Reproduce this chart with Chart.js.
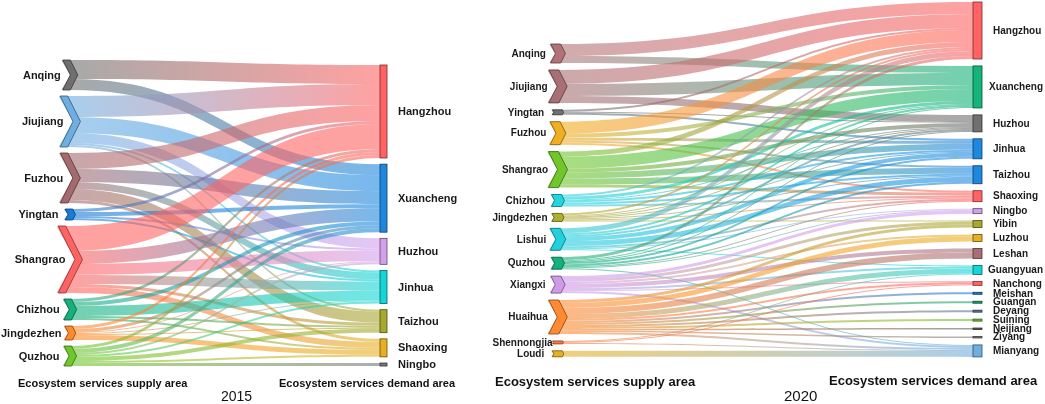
<!DOCTYPE html>
<html>
<head>
<meta charset="utf-8">
<script src="https://cdn.jsdelivr.net/npm/chart.js@4.4.1/dist/chart.umd.min.js"></script>
<style>
html,body{margin:0;padding:0;background:#fff;overflow:hidden}
#wrap{position:relative;width:1045px;height:404px;background:#fff}
canvas{position:absolute;top:0}
#c1{left:0}
#c2{left:490px}
</style>
</head>
<body>
<div id="wrap">
<canvas id="c1" width="490" height="404"></canvas>
<canvas id="c2" width="555" height="404"></canvas>
</div>
<script>
// ---------------- 2015 ----------------
const sources2015 = ["Anqing","Jiujiang","Fuzhou","Yingtan","Shangrao","Chizhou","Jingdezhen","Quzhou"];
const sourceColors2015 = ["#6f6f6f","#6eaee2","#a36b70","#1a7bd8","#ff6363","#16b07c","#ff8a2c","#6fc72c"];
const targets2015 = ["Hangzhou","Xuancheng","Huzhou","Jinhua","Taizhou","Shaoxing","Ningbo"];
const targetColors2015 = ["#ff6363","#1e88e0","#d3a0ec","#14d6d6","#a8a82e","#e8b020","#777777"];
const links2015 = [
  ["Anqing","Hangzhou",19],["Anqing","Xuancheng",11],
  ["Jiujiang","Hangzhou",21],["Jiujiang","Xuancheng",16],["Jiujiang","Huzhou",10],["Jiujiang","Jinhua",2],["Jiujiang","Taizhou",2],
  ["Fuzhou","Hangzhou",16],["Fuzhou","Xuancheng",13],["Fuzhou","Jinhua",7],["Fuzhou","Taizhou",11],["Fuzhou","Shaoxing",3],
  ["Yingtan","Hangzhou",3],["Yingtan","Xuancheng",4],["Yingtan","Huzhou",2],["Yingtan","Jinhua",2],
  ["Shangrao","Hangzhou",25],["Shangrao","Xuancheng",13],["Shangrao","Huzhou",11],["Shangrao","Jinhua",9],["Shangrao","Taizhou",3],["Shangrao","Shaoxing",6],
  ["Chizhou","Hangzhou",3],["Chizhou","Xuancheng",4],["Chizhou","Jinhua",10],["Chizhou","Taizhou",2],["Chizhou","Shaoxing",2],
  ["Jingdezhen","Hangzhou",3],["Jingdezhen","Xuancheng",3],["Jingdezhen","Huzhou",1],["Jingdezhen","Jinhua",1],["Jingdezhen","Taizhou",1],["Jingdezhen","Shaoxing",5],
  ["Quzhou","Hangzhou",3],["Quzhou","Xuancheng",4],["Quzhou","Huzhou",2],["Quzhou","Jinhua",2],["Quzhou","Taizhou",4],["Quzhou","Shaoxing",2],["Quzhou","Ningbo",3]
];

// ---------------- 2020 ----------------
const sources2020 = ["Anqing","Jiujiang","Yingtan","Fuzhou","Shangrao","Chizhou","Jingdezhen","Lishui","Quzhou","Xiangxi","Huaihua","Shennongjia","Loudi"];
const sourceColors2020 = ["#b07478","#a86f74","#707070","#f0ae22","#70c62a","#22d6e0","#b0ae30","#22d0de","#12b27a","#cf9ae8","#ff8a32","#ff7a3a","#e6b024"];
const targets2020 = ["Hangzhou","Xuancheng","Huzhou","Jinhua","Taizhou","Shaoxing","Ningbo","Yibin","Luzhou","Leshan","Guangyuan","Nanchong","Meishan","Guangan","Deyang","Suining","Neijiang","Ziyang","Mianyang"];
const targetColors2020 = ["#ff6363","#14b47a","#707070","#1e88e0","#1e88e0","#ff6363","#d3a0ec","#a8a82e","#e8b020","#a86f74","#14d6d6","#ff6363","#1e78d8","#12a872","#5a7890","#6cc62a","#606060","#808080","#70aee0"];
const links2020 = [
  ["Anqing","Hangzhou",12],["Anqing","Xuancheng",7],
  ["Jiujiang","Hangzhou",14],["Jiujiang","Xuancheng",12],["Jiujiang","Huzhou",7],
  ["Yingtan","Hangzhou",2],["Yingtan","Huzhou",1],["Yingtan","Jinhua",2],
  ["Fuzhou","Hangzhou",12],["Fuzhou","Xuancheng",4],["Fuzhou","Jinhua",3],["Fuzhou","Taizhou",2],["Fuzhou","Shaoxing",2],
  ["Shangrao","Hangzhou",5],["Shangrao","Xuancheng",12],["Shangrao","Huzhou",4],["Shangrao","Jinhua",6],["Shangrao","Taizhou",6],["Shangrao","Shaoxing",3],
  ["Chizhou","Hangzhou",2],["Chizhou","Xuancheng",3],["Chizhou","Huzhou",1],["Chizhou","Jinhua",2],["Chizhou","Taizhou",2],["Chizhou","Shaoxing",2],
  ["Jingdezhen","Hangzhou",2],["Jingdezhen","Xuancheng",1],["Jingdezhen","Huzhou",1],["Jingdezhen","Jinhua",1],["Jingdezhen","Taizhou",1],["Jingdezhen","Shaoxing",1],["Jingdezhen","Yibin",1],
  ["Lishui","Hangzhou",5],["Lishui","Xuancheng",2],["Lishui","Huzhou",2],["Lishui","Jinhua",4],["Lishui","Taizhou",5],["Lishui","Shaoxing",2],["Lishui","Ningbo",1],["Lishui","Guangyuan",1],
  ["Quzhou","Hangzhou",3],["Quzhou","Xuancheng",1],["Quzhou","Huzhou",1],["Quzhou","Jinhua",2],["Quzhou","Taizhou",2],["Quzhou","Shaoxing",1],["Quzhou","Ningbo",1],["Quzhou","Mianyang",1],
  ["Xiangxi","Ningbo",3],["Xiangxi","Yibin",3],["Xiangxi","Luzhou",2],["Xiangxi","Leshan",4],["Xiangxi","Guangyuan",2],["Xiangxi","Nanchong",1],["Xiangxi","Mianyang",2],
  ["Huaihua","Yibin",3],["Huaihua","Luzhou",5],["Huaihua","Leshan",6],["Huaihua","Guangyuan",5],["Huaihua","Nanchong",2],["Huaihua","Meishan",2],["Huaihua","Guangan",2],["Huaihua","Deyang",2],["Huaihua","Suining",2],["Huaihua","Neijiang",1.5],["Huaihua","Ziyang",1.5],["Huaihua","Mianyang",2],
  ["Shennongjia","Guangyuan",1],["Shennongjia","Nanchong",1],["Shennongjia","Mianyang",1],
  ["Loudi","Mianyang",6]
];

// ---------------- helpers ----------------
function shade(hex, f) {
  const n = parseInt(hex.slice(1), 16);
  const r = Math.round(((n >> 16) & 255) * (1 - f));
  const g = Math.round(((n >> 8) & 255) * (1 - f));
  const b = Math.round((n & 255) * (1 - f));
  return `rgb(${r},${g},${b})`;
}

const sankeyPlugin = {
  id: 'sankeyDraw',
  afterDatasetsDraw(chart) {
    const c = chart.options.plugins.sankeyDraw;
    const ctx = chart.ctx, X = chart.scales.x, Y = chart.scales.y;
    const ns = c.sources.length, nt = c.targets.length;
    const sv = new Array(ns).fill(0), tv = new Array(nt).fill(0);
    const L = c.links.map(([s, t, v]) => ({ s: c.sources.indexOf(s), t: c.targets.indexOf(t), v }));
    L.forEach(l => { sv[l.s] += l.v; tv[l.t] += l.v; });
    const sTop = [], tTop = [];
    let acc = c.srcStart;
    for (let i = 0; i < ns; i++) { sTop.push(acc); acc += sv[i] + c.srcGap; }
    acc = c.tgtStart;
    for (let j = 0; j < nt; j++) { tTop.push(acc); acc += tv[j] + c.tgtGap; }
    const py = v => Y.getPixelForValue(v);
    const sx = X.getPixelForValue(0), tx = X.getPixelForValue(1);
    const sOff = sTop.slice(), tOff = tTop.slice();
    L.slice().sort((a, b) => a.s - b.s || a.t - b.t).forEach(l => { l.y0 = sOff[l.s]; sOff[l.s] += l.v; });
    L.slice().sort((a, b) => a.t - b.t || a.s - b.s).forEach(l => { l.y1 = tOff[l.t]; tOff[l.t] += l.v; });

    const xe = tx - c.tgtW / 2;
    // links
    ctx.save();
    ctx.globalAlpha = c.linkAlpha;
    L.forEach(l => {
      const h = py(sTop[l.s] + sv[l.s]) - py(sTop[l.s]);
      const a = h / 8;
      const xl = sx - c.srcW / 2 - a - 1;
      const ya = py(l.y0), yb = py(l.y0 + l.v), ta = py(l.y1), tb = py(l.y1 + l.v);
      const cm = (sx + xe) / 2;
      const g = ctx.createLinearGradient(sx, 0, xe, 0);
      g.addColorStop(0, c.sourceColors[l.s]);
      g.addColorStop(1, c.targetColors[l.t]);
      ctx.fillStyle = g;
      ctx.beginPath();
      ctx.moveTo(xl, ya);
      ctx.lineTo(sx, ya);
      ctx.bezierCurveTo(cm, ya, cm, ta, xe, ta);
      ctx.lineTo(xe, tb);
      ctx.bezierCurveTo(cm, tb, cm, yb, sx, yb);
      ctx.lineTo(xl, yb);
      ctx.closePath();
      ctx.fill();
    });
    ctx.restore();

    // source nodes (chevrons)
    ctx.save();
    ctx.font = c.labelFont;
    ctx.textBaseline = 'middle';
    for (let i = 0; i < ns; i++) {
      const top = py(sTop[i]), bot = py(sTop[i] + sv[i]);
      const h = bot - top, a = h / 8, mid = (top + bot) / 2, w = c.srcW;
      const x0 = sx - w / 2;
      ctx.fillStyle = '#ffffff';
      ctx.beginPath();
      ctx.moveTo(x0 - a - 2, top - 0.5);
      ctx.lineTo(x0 + a, mid);
      ctx.lineTo(x0 - a - 2, bot + 0.5);
      ctx.closePath();
      ctx.fill();
      ctx.beginPath();
      ctx.moveTo(x0 - a, top);
      ctx.lineTo(x0 - a + w, top);
      ctx.lineTo(x0 + w + a, mid);
      ctx.lineTo(x0 - a + w, bot);
      ctx.lineTo(x0 - a, bot);
      ctx.lineTo(x0 + a, mid);
      ctx.closePath();
      ctx.fillStyle = c.sourceColors[i];
      ctx.fill();
      ctx.lineWidth = 0.8;
      ctx.strokeStyle = shade(c.sourceColors[i], 0.5);
      ctx.stroke();
      // label
      const txt = c.sources[i];
      const tw = ctx.measureText(txt).width;
      let lx = x0 + a - c.srcLabelGap;
      if (lx - tw < c.minX) lx = c.minX + tw;
      ctx.fillStyle = '#1a1a1a';
      ctx.textAlign = 'right';
      ctx.fillText(txt, lx, mid + 0.5);
    }
    // target nodes
    for (let j = 0; j < nt; j++) {
      const top = py(tTop[j]), bot = py(tTop[j] + tv[j]);
      const x = tx - c.tgtW / 2;
      ctx.fillStyle = c.targetColors[j];
      ctx.fillRect(x, top, c.tgtW, bot - top);
      ctx.lineWidth = 0.8;
      ctx.strokeStyle = shade(c.targetColors[j], 0.55);
      ctx.strokeRect(x, top, c.tgtW, bot - top);
      const txt = c.targets[j];
      const tw = ctx.measureText(txt).width;
      let lx = tx + c.tgtW / 2 + c.tgtLabelGap;
      if (lx + tw > c.maxX) lx = c.maxX - tw;
      ctx.fillStyle = '#1a1a1a';
      ctx.textAlign = 'left';
      ctx.fillText(txt, lx, (top + bot) / 2 + 0.5);
    }
    // captions
    c.captions.forEach(cp => {
      ctx.font = cp.font;
      ctx.fillStyle = '#111';
      ctx.textAlign = 'left';
      ctx.textBaseline = 'middle';
      ctx.fillText(cp.text, cp.x, cp.y);
    });
    ctx.restore();
  }
};

function makeChart(id, cfg) {
  return new Chart(document.getElementById(id), {
    type: 'scatter',
    data: { datasets: [{ data: [], pointRadius: 0 }] },
    options: {
      responsive: false,
      animation: false,
      events: [],
      layout: { padding: 0 },
      scales: {
        x: { type: 'linear', display: false, min: cfg.xMin, max: cfg.xMax },
        y: { type: 'linear', display: false, min: 0, max: 404, reverse: true }
      },
      plugins: {
        legend: { display: false },
        tooltip: { enabled: false },
        sankeyDraw: cfg
      }
    },
    plugins: [sankeyPlugin]
  });
}

makeChart('c1', {
  sources: sources2015, sourceColors: sourceColors2015,
  targets: targets2015, targetColors: targetColors2015,
  links: links2015,
  srcStart: 60, srcGap: 6, tgtStart: 65, tgtGap: 6.17,
  xMin: -0.2245, xMax: 1.340,
  srcW: 7.5, tgtW: 7, linkAlpha: 0.6,
  srcLabelGap: 9.5, tgtLabelGap: 11, minX: 1, maxX: 488,
  labelFont: 'bold 11px "Liberation Sans", Arial, sans-serif',
  captions: [
    { text: 'Ecosystem services supply area', x: 18, y: 384, font: 'bold 11px "Liberation Sans", Arial, sans-serif' },
    { text: 'Ecosystem services demand area', x: 279, y: 384, font: 'bold 11px "Liberation Sans", Arial, sans-serif' },
    { text: '2015', x: 221, y: 397, font: '14px "Liberation Sans", Arial, sans-serif' }
  ]
});

makeChart('c2', {
  sources: sources2020, sourceColors: sourceColors2020,
  targets: targets2020, targetColors: targetColors2020,
  links: links2020,
  srcStart: 44, srcGap: 6.9, tgtStart: 2, tgtGap: 6.94,
  xMin: -0.1621, xMax: 1.1609,
  srcW: 10, tgtW: 9, linkAlpha: 0.6,
  srcLabelGap: 9.5, tgtLabelGap: 11, minX: 2.5, maxX: 553,
  labelFont: 'bold 10px "Liberation Sans", Arial, sans-serif',
  captions: [
    { text: 'Ecosystem services supply area', x: 5, y: 382, font: 'bold 13px "Liberation Sans", Arial, sans-serif' },
    { text: 'Ecosystem services demand area', x: 339, y: 381, font: 'bold 13px "Liberation Sans", Arial, sans-serif' },
    { text: '2020', x: 294, y: 397, font: '15px "Liberation Sans", Arial, sans-serif' }
  ]
});
</script>
</body>
</html>
